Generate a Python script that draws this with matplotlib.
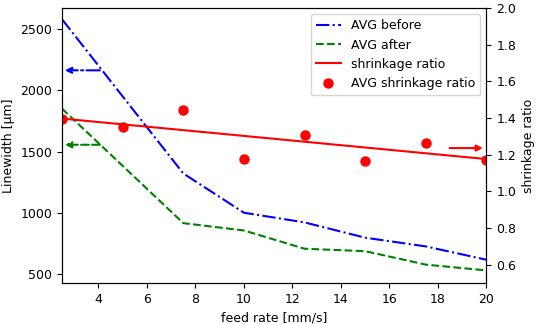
import matplotlib
matplotlib.use('Agg')
import matplotlib.pyplot as plt

# feed rate values [mm/s]
feed = [2.5, 5, 7.5, 10, 12.5, 15, 17.5, 20]
# average linewidths [um]
avg_before = [2580, 1950, 1321, 1000, 921, 796, 725, 616]
avg_after = [1850, 1383, 915, 855, 706, 686, 576, 529]
# shrinkage ratio
avg_ratio = [1.393, 1.351, 1.442, 1.175, 1.309, 1.165, 1.264, 1.169]
fit_x = [2.5, 20]
fit_ratio = [1.397, 1.176]

plt.rcParams['font.size'] = 9

fig = plt.figure(figsize=(5.36, 3.24), dpi=100)
ax = fig.add_axes([0.1157, 0.1265, 0.7919, 0.8488])
ax2 = ax.twinx()

l1, = ax.plot(feed, avg_before, 'b-.', lw=1.5, label='AVG before')
l2, = ax.plot(feed, avg_after, 'g--', lw=1.5, label='AVG after')
l3, = ax2.plot(fit_x, fit_ratio, 'r-', lw=1.5, label='shrinkage ratio')
l4, = ax2.plot(feed, avg_ratio, 'ro', ms=6.5, label='AVG shrinkage ratio')

ax.set_xlim(2.5, 20)
ax.set_ylim(426, 2672)
ax2.set_ylim(0.5, 2.0)
ax.set_xticks([4, 6, 8, 10, 12, 14, 16, 18, 20])
ax.set_yticks([500, 1000, 1500, 2000, 2500])
ax2.set_yticks([0.6, 0.8, 1.0, 1.2, 1.4, 1.6, 1.8, 2.0])

ax.set_xlabel('feed rate [mm/s]')
ax.set_ylabel('Linewidth [µm]')
ax2.set_ylabel('shrinkage ratio')

# arrows showing which axis each curve belongs to
ax.annotate('', xy=(2.62, 2163), xytext=(4.06, 2163),
            arrowprops=dict(arrowstyle='-|>', color='b', ls='-.', lw=1.5, shrinkA=0, shrinkB=0))
ax.annotate('', xy=(2.62, 1555), xytext=(4.06, 1555),
            arrowprops=dict(arrowstyle='-|>', color='g', ls='--', lw=1.5, shrinkA=0, shrinkB=0))
ax2.annotate('', xy=(19.85, 1.236), xytext=(18.48, 1.236),
             arrowprops=dict(arrowstyle='-|>', color='r', lw=1.5, shrinkA=0, shrinkB=0))

ax2.legend(handles=[l1, l2, l3, l4], loc='upper right')

fig.savefig('out.png', dpi=100)
